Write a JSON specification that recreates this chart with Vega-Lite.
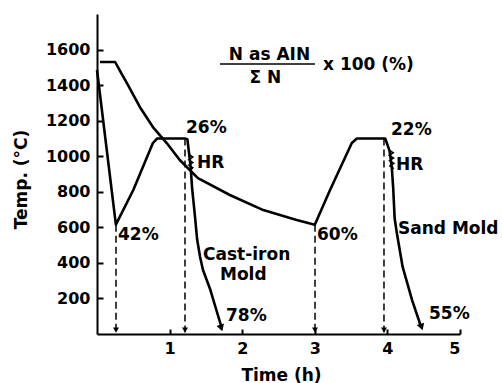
{
  "$schema": "https://vega.github.io/schema/vega-lite/v6.json",
  "width": 363,
  "height": 320,
  "autosize": {"type": "none"},
  "padding": {"left": 97, "top": 14, "right": 42, "bottom": 49},
  "background": "white",
  "config": {
    "view": {"stroke": null},
    "font": "DejaVu Sans",
    "axis": {
      "grid": false,
      "domainColor": "black",
      "domainWidth": 2,
      "tickColor": "black",
      "tickWidth": 2,
      "labelColor": "black",
      "labelFont": "DejaVu Sans",
      "labelFontSize": 16,
      "labelFontWeight": "bold",
      "titleColor": "black",
      "titleFont": "DejaVu Sans",
      "titleFontSize": 17,
      "titleFontWeight": "bold"
    }
  },
  "datasets": {
    "curves": [
      {"s": "A", "i": 1, "t": 0.0, "T": 1485},
      {"s": "A", "i": 2, "t": 0.26, "T": 615},
      {"s": "A", "i": 3, "t": 0.5, "T": 810},
      {"s": "A", "i": 4, "t": 0.77, "T": 1074},
      {"s": "A", "i": 5, "t": 0.83, "T": 1100},
      {"s": "A", "i": 6, "t": 1.21, "T": 1100},
      {"s": "A", "i": 7, "t": 1.245, "T": 1095},
      {"s": "A", "i": 8, "t": 1.27, "T": 1010},
      {"s": "A", "i": 9, "t": 1.29, "T": 940},
      {"s": "A", "i": 10, "t": 1.31, "T": 820},
      {"s": "A", "i": 11, "t": 1.345, "T": 680},
      {"s": "A", "i": 12, "t": 1.38, "T": 530},
      {"s": "A", "i": 13, "t": 1.42, "T": 433},
      {"s": "A", "i": 14, "t": 1.46, "T": 360},
      {"s": "A", "i": 15, "t": 1.56, "T": 250},
      {"s": "A", "i": 16, "t": 1.71, "T": 45},
      {"s": "B", "i": 1, "t": 0.04, "T": 1530},
      {"s": "B", "i": 2, "t": 0.25, "T": 1530},
      {"s": "B", "i": 3, "t": 0.33, "T": 1470},
      {"s": "B", "i": 4, "t": 0.41, "T": 1412},
      {"s": "B", "i": 5, "t": 0.59, "T": 1277},
      {"s": "B", "i": 6, "t": 0.77, "T": 1164},
      {"s": "B", "i": 7, "t": 0.96, "T": 1074},
      {"s": "B", "i": 8, "t": 1.14, "T": 979},
      {"s": "B", "i": 9, "t": 1.39, "T": 877},
      {"s": "B", "i": 10, "t": 1.83, "T": 782},
      {"s": "B", "i": 11, "t": 2.29, "T": 697},
      {"s": "B", "i": 12, "t": 2.75, "T": 641},
      {"s": "B", "i": 13, "t": 3.0, "T": 615},
      {"s": "B", "i": 14, "t": 3.21, "T": 810},
      {"s": "B", "i": 15, "t": 3.51, "T": 1074},
      {"s": "B", "i": 16, "t": 3.58, "T": 1100},
      {"s": "B", "i": 17, "t": 3.97, "T": 1100},
      {"s": "B", "i": 18, "t": 4.03, "T": 1030},
      {"s": "B", "i": 19, "t": 4.06, "T": 940},
      {"s": "B", "i": 20, "t": 4.08, "T": 820},
      {"s": "B", "i": 21, "t": 4.1, "T": 650},
      {"s": "B", "i": 22, "t": 4.13, "T": 568},
      {"s": "B", "i": 23, "t": 4.21, "T": 377},
      {"s": "B", "i": 24, "t": 4.34, "T": 191},
      {"s": "B", "i": 25, "t": 4.46, "T": 45}
    ],
    "zigzag": [
      {"s": "A", "i": 1, "t": 1.265, "T": 1010},
      {"s": "A", "i": 2, "t": 1.32, "T": 995},
      {"s": "A", "i": 3, "t": 1.265, "T": 980},
      {"s": "A", "i": 4, "t": 1.32, "T": 965},
      {"s": "A", "i": 5, "t": 1.265, "T": 950},
      {"s": "A", "i": 6, "t": 1.32, "T": 935},
      {"s": "A", "i": 7, "t": 1.27, "T": 920},
      {"s": "B", "i": 1, "t": 4.02, "T": 1035},
      {"s": "B", "i": 2, "t": 4.08, "T": 1020},
      {"s": "B", "i": 3, "t": 4.025, "T": 1005},
      {"s": "B", "i": 4, "t": 4.085, "T": 990},
      {"s": "B", "i": 5, "t": 4.03, "T": 975},
      {"s": "B", "i": 6, "t": 4.09, "T": 960},
      {"s": "B", "i": 7, "t": 4.035, "T": 945},
      {"s": "B", "i": 8, "t": 4.09, "T": 930}
    ],
    "drops": [
      {"t": 0.262, "T": 615, "T2": 10},
      {"t": 1.212, "T": 1100, "T2": 10},
      {"t": 3.003, "T": 615, "T2": 10},
      {"t": 3.953, "T": 1100, "T2": 10}
    ],
    "dropheads": [
      {"t": 0.262, "T": 22},
      {"t": 1.212, "T": 22},
      {"t": 3.003, "T": 22},
      {"t": 3.953, "T": 22}
    ],
    "curveheads": [
      {"t": 1.712, "T": 34},
      {"t": 4.47, "T": 39}
    ],
    "labels": [
      {"t": 1.226, "T": 1159, "label": "26%"},
      {"t": 1.377, "T": 962, "label": "HR"},
      {"t": 0.289, "T": 557, "label": "42%"},
      {"t": 1.46, "T": 444, "label": "Cast-iron"},
      {"t": 1.694, "T": 332, "label": "Mold"},
      {"t": 1.777, "T": 101, "label": "78%"},
      {"t": 3.03, "T": 557, "label": "60%"},
      {"t": 4.05, "T": 1147, "label": "22%"},
      {"t": 4.118, "T": 951, "label": "HR"},
      {"t": 4.146, "T": 591, "label": "Sand Mold"},
      {"t": 4.573, "T": 112, "label": "55%"},
      {"t": 3.113, "T": 1513, "label": "x 100 (%)"}
    ],
    "fraction": [
      {"t": 2.376, "T": 1569, "label": "N as AIN"},
      {"t": 2.32, "T": 1440, "label": "Σ N"}
    ],
    "fracline": [
      {"t": 1.694, "t2": 3.003, "T": 1519}
    ]
  },
  "encoding": {
    "x": {
      "field": "t",
      "type": "quantitative",
      "scale": {"domain": [0, 5], "nice": false, "zero": false},
      "axis": {
        "values": [1, 2, 3, 4, 5],
        "format": "d",
        "tickSize": -5,
        "labelPadding": 11,
        "title": "Time (h)",
        "titleX": 184,
        "titleY": 41,
        "titleBaseline": "middle",
        "titleAlign": "center",
        "titleAnchor": null
      }
    },
    "y": {
      "field": "T",
      "type": "quantitative",
      "scale": {"domain": [0, 1800], "nice": false, "zero": false},
      "axis": {
        "values": [200, 400, 600, 800, 1000, 1200, 1400, 1600],
        "format": "d",
        "tickSize": -6,
        "labelPadding": 13,
        "title": "Temp. (°C)",
        "titleX": -76,
        "titleY": 165,
        "titleBaseline": "middle",
        "titleAlign": "center",
        "titleAngle": -90
      }
    }
  },
  "layer": [
    {
      "data": {"name": "drops"},
      "mark": {"type": "rule", "color": "black", "strokeWidth": 1.5, "strokeDash": [7, 4]},
      "encoding": {"y2": {"field": "T2"}}
    },
    {
      "data": {"name": "dropheads"},
      "mark": {"type": "point", "shape": "triangle-down", "filled": true, "color": "black", "size": 35, "opacity": 1}
    },
    {
      "data": {"name": "curves"},
      "mark": {"type": "line", "color": "black", "strokeWidth": 2.6, "strokeJoin": "round"},
      "encoding": {"detail": {"field": "s"}, "order": {"field": "i"}}
    },
    {
      "data": {"name": "curveheads"},
      "mark": {"type": "point", "shape": "triangle-down", "filled": true, "color": "black", "size": 60, "angle": -18, "opacity": 1}
    },
    {
      "data": {"name": "zigzag"},
      "mark": {"type": "line", "color": "black", "strokeWidth": 1.5},
      "encoding": {"detail": {"field": "s"}, "order": {"field": "i"}}
    },
    {
      "data": {"name": "labels"},
      "mark": {"type": "text", "align": "left", "baseline": "middle", "font": "DejaVu Sans", "fontSize": 17, "fontWeight": "bold", "color": "black"},
      "encoding": {"text": {"field": "label"}}
    },
    {
      "data": {"name": "fraction"},
      "mark": {"type": "text", "align": "center", "baseline": "middle", "font": "DejaVu Sans", "fontSize": 17, "fontWeight": "bold", "color": "black"},
      "encoding": {"text": {"field": "label"}}
    },
    {
      "data": {"name": "fracline"},
      "mark": {"type": "rule", "color": "black", "strokeWidth": 1.5},
      "encoding": {"x2": {"field": "t2"}}
    }
  ]
}
